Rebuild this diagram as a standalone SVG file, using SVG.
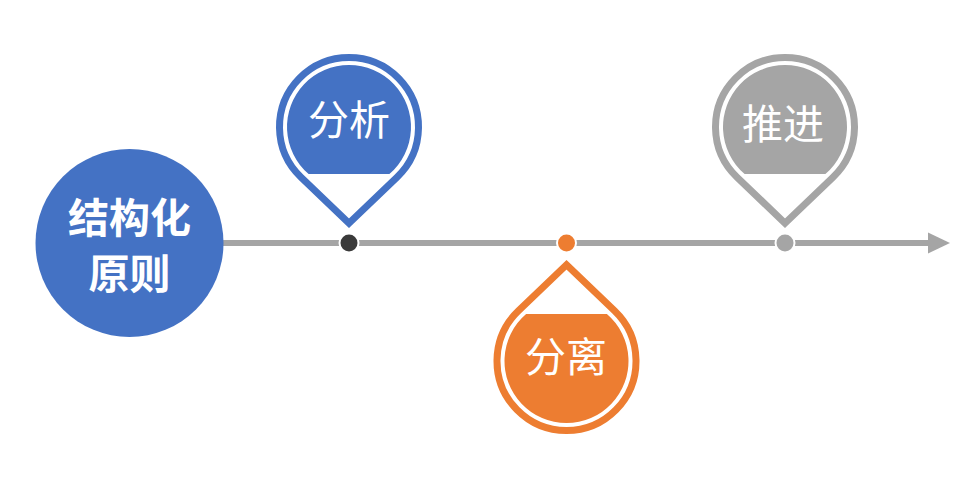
<svg xmlns="http://www.w3.org/2000/svg" width="975" height="482" viewBox="0 0 975 482">
  <style>
    .pin { fill: none; stroke-width: 7; stroke-linejoin: miter; stroke-miterlimit: 10; }
    .lbl { font-family: "Noto Sans CJK SC", "Noto Sans", sans-serif; font-size: 41px; fill: #ffffff; text-anchor: middle; }
    .bold { font-weight: 700; }
    .dot { stroke: #ffffff; stroke-width: 4; paint-order: stroke; }
    .blue { stroke: #4472C4; }
    .orange { stroke: #ED7D31; }
    .gray { stroke: #A5A5A5; }
  </style>
  <defs>
    <path id="pinOutline" d="M 0 96.2 L -48.02 50.23 A 69.5 69.5 0 1 1 48.02 50.23 Z"/>
    <path id="pinFill" d="M -40.4 47 A 62 62 0 1 1 40.4 47 Z"/>
  </defs>
  <rect width="975" height="482" fill="#ffffff"/>

  <g id="connectors">
    <line x1="200" y1="243" x2="930" y2="243" stroke="#A5A5A5" stroke-width="6"/>
    <polygon points="928,232.5 950,243 928,253.5" fill="#A5A5A5"/>
  </g>

  <g id="node-main">
    <circle cx="129.5" cy="243" r="94" fill="#4472C4"/>
    <text class="lbl bold" x="129.5" y="232.6">结构化</text>
    <text class="lbl bold" x="129.5" y="288.6">原则</text>
  </g>

  <g id="node-analysis">
    <g transform="translate(349,127)">
      <use href="#pinOutline" class="pin blue"/>
      <use href="#pinFill" fill="#4472C4"/>
    </g>
    <text class="lbl" x="349" y="135.3">分析</text>
    <circle class="dot" cx="349" cy="243" r="8.5" fill="#3A3A3A"/>
  </g>

  <g id="node-separation">
    <g transform="translate(566.5,361) rotate(180)">
      <use href="#pinOutline" class="pin orange"/>
      <use href="#pinFill" fill="#ED7D31"/>
    </g>
    <text class="lbl" x="566" y="371.6">分离</text>
    <circle class="dot" cx="566.5" cy="243" r="8.5" fill="#ED7D31"/>
  </g>

  <g id="node-advance">
    <g transform="translate(785,127)">
      <use href="#pinOutline" class="pin gray"/>
      <use href="#pinFill" fill="#A5A5A5"/>
    </g>
    <text class="lbl" x="783" y="138.6">推进</text>
    <circle class="dot" cx="785" cy="243" r="8.5" fill="#A5A5A5"/>
  </g>
</svg>
